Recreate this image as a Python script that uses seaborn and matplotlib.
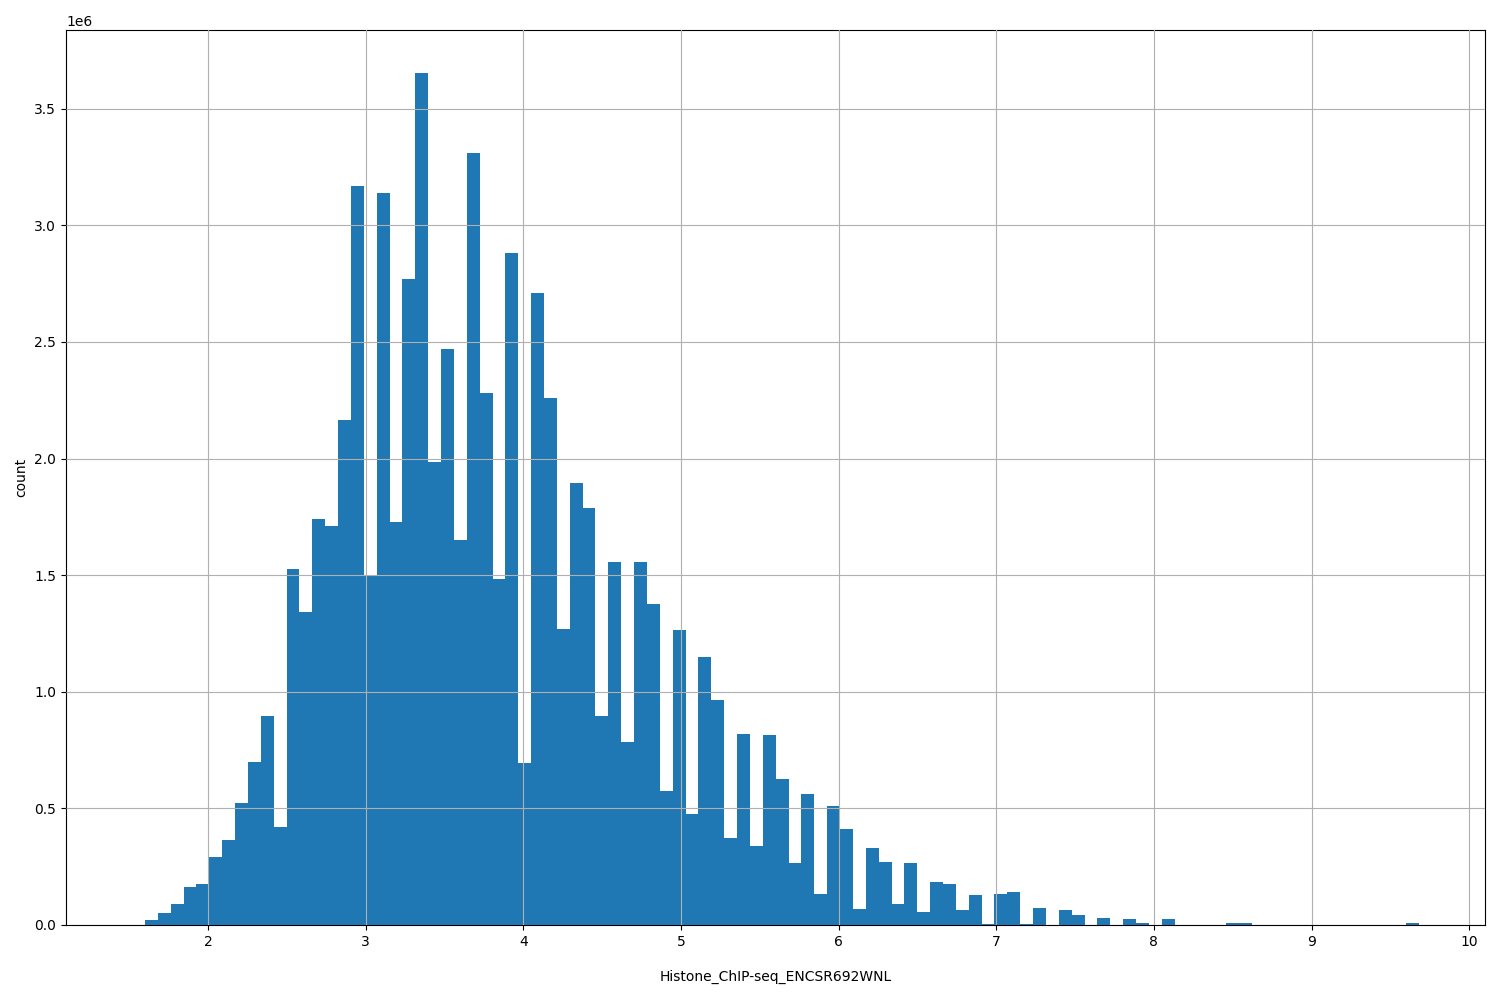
import numpy as np
import pandas as pd
import matplotlib
matplotlib.use("Agg")
import matplotlib.pyplot as plt
import seaborn as sns

x_min, x_max, n_bins = 1.601, 9.683, 99
counts_m = [0.02,0.05,0.09,0.165,0.175,0.29,0.365,0.525,0.70,0.895,
            0.42,1.525,1.34,1.74,1.71,2.165,3.17,1.50,3.14,1.73,
            2.77,3.655,1.985,2.47,1.65,3.31,2.28,1.485,2.88,0.695,
            2.71,2.26,1.27,1.895,1.79,0.895,1.555,0.785,1.555,1.375,
            0.575,1.265,0.475,1.15,0.965,0.375,0.82,0.34,0.815,0.625,
            0.265,0.56,0.135,0.51,0.41,0.07,0.33,0.27,0.09,0.265,
            0.055,0.185,0.175,0.065,0.13,0.005,0.135,0.14,0.005,0.075,
            0,0.065,0.045,0,0.03,0,0.025,0.01,0,0.025,
            0,0,0,0,0.01,0.01,0,0,0,0,
            0,0,0,0,0,0,0,0,0.01]

edges = np.linspace(x_min, x_max, n_bins + 1)
df = pd.DataFrame({"x": (edges[:-1] + edges[1:]) / 2,
                   "w": np.array(counts_m) * 1e6})

fig, ax = plt.subplots(figsize=(15, 10), dpi=100)
fig.subplots_adjust(left=0.044, right=0.99, top=0.97, bottom=0.075)
sns.histplot(data=df, x="x", weights="w", bins=n_bins, binrange=(x_min, x_max),
             color="#1f77b4", alpha=1, edgecolor="none", linewidth=0, ax=ax)
ax.grid(True, color="#b0b0b0", linewidth=0.8)
ax.set_axisbelow(False)
ax.set_xlabel("Histone_ChIP-seq_ENCSR692WNL", labelpad=15)
ax.set_ylabel("count")
ax.set_xlim(1.1, 10.1)
fig.savefig("out.png")
